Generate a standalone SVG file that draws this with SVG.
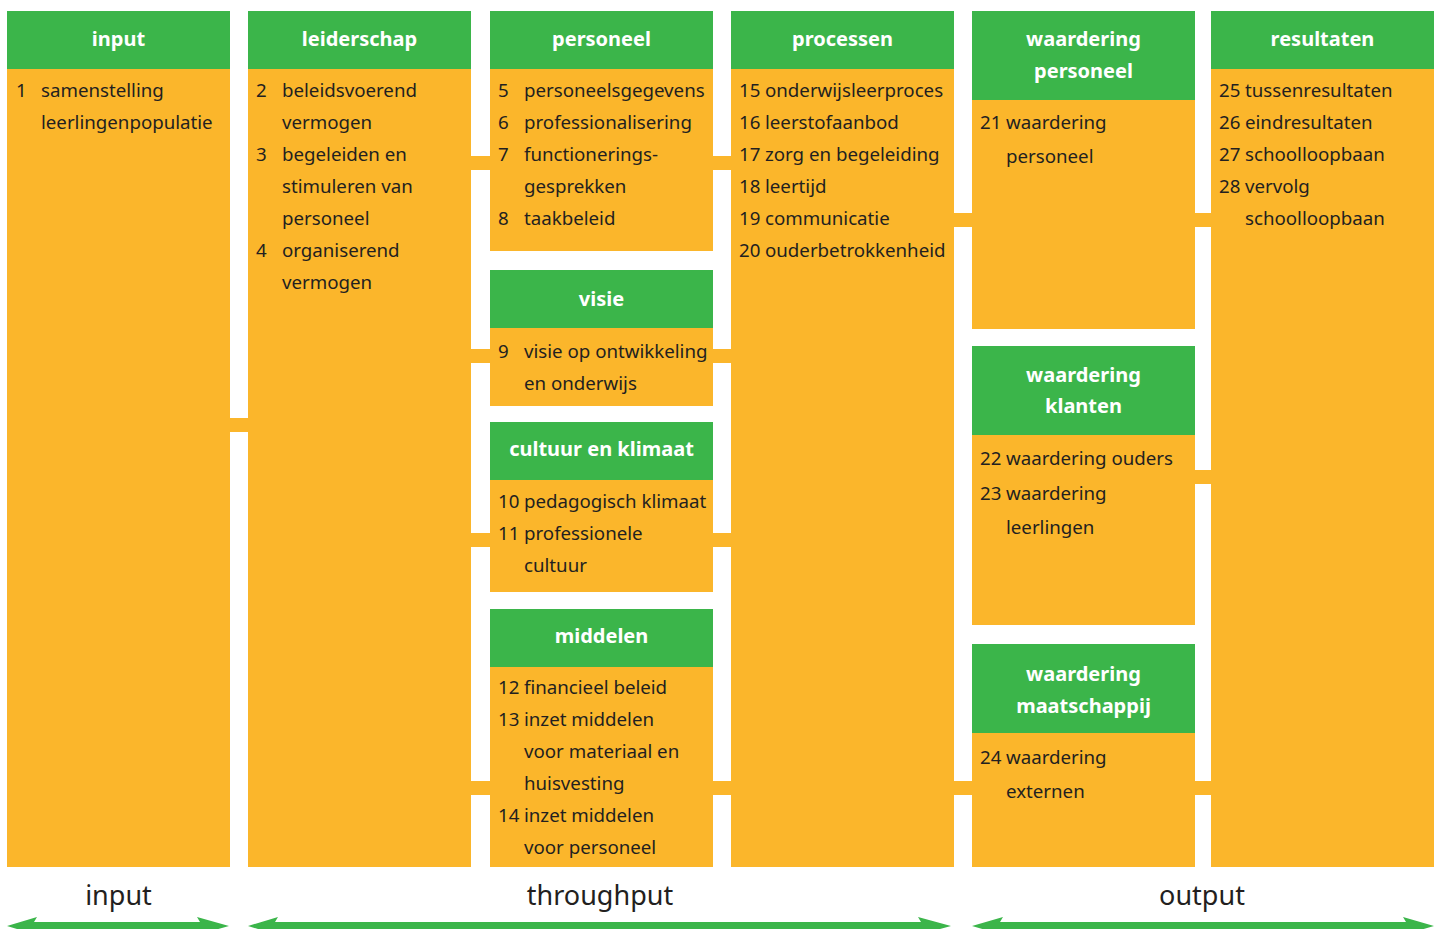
<svg xmlns="http://www.w3.org/2000/svg" width="1440" height="929" viewBox="0 0 1440 929">
<defs>
<style>
.hd{fill:#3bb54a}
.bd{fill:#fbb62b}
.ht{font-family:"Noto Sans","Open Sans",sans-serif;font-size:20px;font-weight:bold;fill:#ffffff;text-anchor:middle}
.tx{font-family:"Noto Sans","Open Sans",sans-serif;font-size:18.7px;fill:#231f20}
.lb{font-family:"Noto Sans","Open Sans",sans-serif;font-size:27px;fill:#231f20;text-anchor:middle}
.cn{fill:#fbb62b}
.ar{fill:#3bb54a}
</style>
</defs>
<rect width="1440" height="929" fill="#ffffff"/>
<g id="connectors">
<rect class="cn" x="229" y="418" width="20" height="14"/>
<rect class="cn" x="470" y="156" width="21" height="14"/>
<rect class="cn" x="470" y="349" width="21" height="14"/>
<rect class="cn" x="470" y="533" width="21" height="14"/>
<rect class="cn" x="470" y="781" width="21" height="14"/>
<rect class="cn" x="712" y="156" width="20" height="14"/>
<rect class="cn" x="712" y="349" width="20" height="14"/>
<rect class="cn" x="712" y="533" width="20" height="14"/>
<rect class="cn" x="712" y="781" width="20" height="14"/>
<rect class="cn" x="953" y="213" width="20" height="14"/>
<rect class="cn" x="953" y="781" width="20" height="14"/>
<rect class="cn" x="1194" y="213" width="18" height="14"/>
<rect class="cn" x="1194" y="470" width="18" height="14"/>
<rect class="cn" x="1194" y="781" width="18" height="14"/>
</g>
<g id="input">
<rect class="bd" x="7" y="11" width="223" height="856"/>
<rect class="hd" x="7" y="11" width="223" height="58"/>
<text class="ht" x="118.5" y="46">input</text>
<text class="tx" y="97"><tspan x="16">1</tspan><tspan x="41">samenstelling</tspan></text>
<text class="tx" x="41" y="129">leerlingenpopulatie</text>
</g>
<g id="leiderschap">
<rect class="bd" x="248" y="11" width="223" height="856"/>
<rect class="hd" x="248" y="11" width="223" height="58"/>
<text class="ht" x="359.5" y="46">leiderschap</text>
<text class="tx" y="97"><tspan x="256">2</tspan><tspan x="282">beleidsvoerend</tspan></text>
<text class="tx" x="282" y="129">vermogen</text>
<text class="tx" y="161"><tspan x="256">3</tspan><tspan x="282">begeleiden en</tspan></text>
<text class="tx" x="282" y="193">stimuleren van</text>
<text class="tx" x="282" y="225">personeel</text>
<text class="tx" y="257"><tspan x="256">4</tspan><tspan x="282">organiserend</tspan></text>
<text class="tx" x="282" y="289">vermogen</text>
</g>
<g id="personeel">
<rect class="bd" x="490" y="11" width="223" height="240"/>
<rect class="hd" x="490" y="11" width="223" height="58"/>
<text class="ht" x="601.5" y="46">personeel</text>
<text class="tx" y="97"><tspan x="498">5</tspan><tspan x="524">personeelsgegevens</tspan></text>
<text class="tx" y="129"><tspan x="498">6</tspan><tspan x="524">professionalisering</tspan></text>
<text class="tx" y="161"><tspan x="498">7</tspan><tspan x="524">functionerings-</tspan></text>
<text class="tx" x="524" y="193">gesprekken</text>
<text class="tx" y="225"><tspan x="498">8</tspan><tspan x="524">taakbeleid</tspan></text>
</g>
<g id="visie">
<rect class="bd" x="490" y="270" width="223" height="136"/>
<rect class="hd" x="490" y="270" width="223" height="58"/>
<text class="ht" x="601.5" y="306">visie</text>
<text class="tx" y="358"><tspan x="498">9</tspan><tspan x="524">visie op ontwikkeling</tspan></text>
<text class="tx" x="524" y="390">en onderwijs</text>
</g>
<g id="cultuur">
<rect class="bd" x="490" y="422" width="223" height="170"/>
<rect class="hd" x="490" y="422" width="223" height="58"/>
<text class="ht" x="601.5" y="456">cultuur en klimaat</text>
<text class="tx" y="508"><tspan x="498">10</tspan><tspan x="524">pedagogisch klimaat</tspan></text>
<text class="tx" y="540"><tspan x="498">11</tspan><tspan x="524">professionele</tspan></text>
<text class="tx" x="524" y="572">cultuur</text>
</g>
<g id="middelen">
<rect class="bd" x="490" y="609" width="223" height="258"/>
<rect class="hd" x="490" y="609" width="223" height="58"/>
<text class="ht" x="601.5" y="643">middelen</text>
<text class="tx" y="694"><tspan x="498">12</tspan><tspan x="524">financieel beleid</tspan></text>
<text class="tx" y="726"><tspan x="498">13</tspan><tspan x="524">inzet middelen</tspan></text>
<text class="tx" x="524" y="758">voor materiaal en</text>
<text class="tx" x="524" y="790">huisvesting</text>
<text class="tx" y="822"><tspan x="498">14</tspan><tspan x="524">inzet middelen</tspan></text>
<text class="tx" x="524" y="854">voor personeel</text>
</g>
<g id="processen">
<rect class="bd" x="731" y="11" width="223" height="856"/>
<rect class="hd" x="731" y="11" width="223" height="58"/>
<text class="ht" x="842.5" y="46">processen</text>
<text class="tx" y="97"><tspan x="739">15</tspan><tspan x="765">onderwijsleerproces</tspan></text>
<text class="tx" y="129"><tspan x="739">16</tspan><tspan x="765">leerstofaanbod</tspan></text>
<text class="tx" y="161"><tspan x="739">17</tspan><tspan x="765">zorg en begeleiding</tspan></text>
<text class="tx" y="193"><tspan x="739">18</tspan><tspan x="765">leertijd</tspan></text>
<text class="tx" y="225"><tspan x="739">19</tspan><tspan x="765">communicatie</tspan></text>
<text class="tx" y="257"><tspan x="739">20</tspan><tspan x="765">ouderbetrokkenheid</tspan></text>
</g>
<g id="waardering-personeel">
<rect class="bd" x="972" y="11" width="223" height="318"/>
<rect class="hd" x="972" y="11" width="223" height="89"/>
<text class="ht" x="1083.5" y="46">waardering</text>
<text class="ht" x="1083.5" y="78">personeel</text>
<text class="tx" y="129"><tspan x="980">21</tspan><tspan x="1006">waardering</tspan></text>
<text class="tx" x="1006" y="163">personeel</text>
</g>
<g id="waardering-klanten">
<rect class="bd" x="972" y="346" width="223" height="279"/>
<rect class="hd" x="972" y="346" width="223" height="89"/>
<text class="ht" x="1083.5" y="382">waardering</text>
<text class="ht" x="1083.5" y="413">klanten</text>
<text class="tx" y="465"><tspan x="980">22</tspan><tspan x="1006">waardering ouders</tspan></text>
<text class="tx" y="500"><tspan x="980">23</tspan><tspan x="1006">waardering</tspan></text>
<text class="tx" x="1006" y="534">leerlingen</text>
</g>
<g id="waardering-maatschappij">
<rect class="bd" x="972" y="644" width="223" height="223"/>
<rect class="hd" x="972" y="644" width="223" height="89"/>
<text class="ht" x="1083.5" y="681">waardering</text>
<text class="ht" x="1083.5" y="713">maatschappij</text>
<text class="tx" y="764"><tspan x="980">24</tspan><tspan x="1006">waardering</tspan></text>
<text class="tx" x="1006" y="798">externen</text>
</g>
<g id="resultaten">
<rect class="bd" x="1211" y="11" width="223" height="856"/>
<rect class="hd" x="1211" y="11" width="223" height="58"/>
<text class="ht" x="1322.5" y="46">resultaten</text>
<text class="tx" y="97"><tspan x="1219">25</tspan><tspan x="1245">tussenresultaten</tspan></text>
<text class="tx" y="129"><tspan x="1219">26</tspan><tspan x="1245">eindresultaten</tspan></text>
<text class="tx" y="161"><tspan x="1219">27</tspan><tspan x="1245">schoolloopbaan</tspan></text>
<text class="tx" y="193"><tspan x="1219">28</tspan><tspan x="1245">vervolg</tspan></text>
<text class="tx" x="1245" y="225">schoolloopbaan</text>
</g>
<g id="phase-input">
<text class="lb" x="118.5" y="905">input</text>
<polygon class="ar" points="7,926 37,917 34,922 200,922 197,917 229,926 197,935 200,930 34,930 37,935"/>
</g>
<g id="phase-throughput">
<text class="lb" x="600" y="905">throughput</text>
<polygon class="ar" points="248,926 278,917 275,922 921,922 918,917 951,926 918,935 921,930 275,930 278,935"/>
</g>
<g id="phase-output">
<text class="lb" x="1202" y="905">output</text>
<polygon class="ar" points="972,926 1003,917 1000,922 1406,922 1403,917 1434,926 1403,935 1406,930 1000,930 1003,935"/>
</g>
</svg>
